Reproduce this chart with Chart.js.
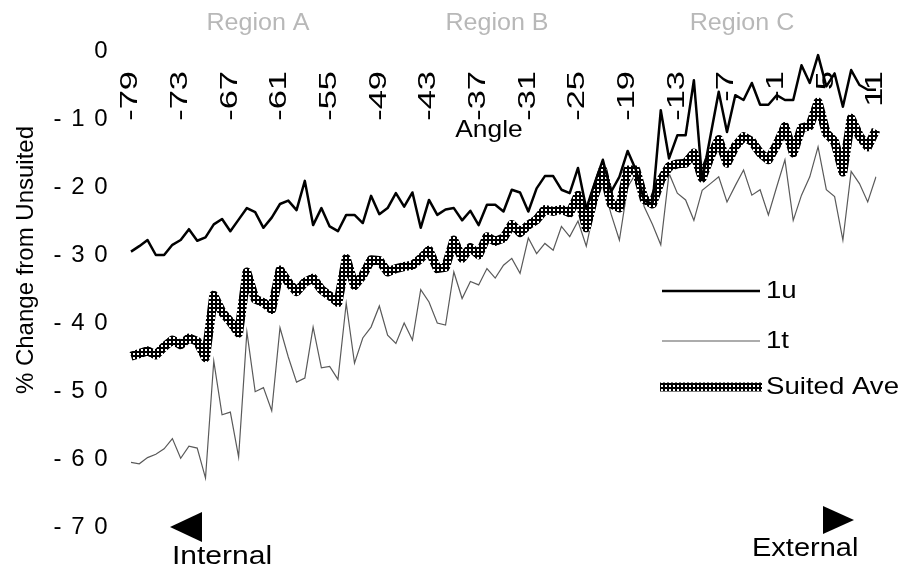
<!DOCTYPE html>
<html><head><meta charset="utf-8">
<script src="https://cdn.jsdelivr.net/npm/chart.js@4"></script>
<style>html,body{margin:0;padding:0;background:#fff;}canvas{display:block;}</style>
</head><body>
<canvas id="c" width="902" height="567"></canvas>
<script>
// ---- data ----
const angles = [-79,-78,-77,-76,-75,-74,-73,-72,-71,-70,-69,-68,-67,-66,-65,-64,-63,-62,-61,-60,
  -59,-58,-57,-56,-55,-54,-53,-52,-51,-50,-49,-48,-47,-46,-45,-44,-43,-42,-41,-40,
  -39,-38,-37,-36,-35,-34,-33,-32,-31,-30,-29,-28,-27,-26,-25,-24,-23,-22,-21,-20,
  -19,-18,-17,-16,-15,-14,-13,-12,-11,-10,-9,-8,-7,-6,-5,-4,-3,-2,-1,0,
  1,2,3,4,5,6,7,8,9,10,11];
const xTickLabels = ['-79','-73','-67','-61','-55','-49','-43','-37','-31','-25','-19','-13','-7','-1','5','11'];
const series1u = [-29.5,-28.7,-27.8,-30,-30,-28.5,-27.8,-26.2,-27.9,-27.4,
  -25.5,-24.7,-26.5,-24.8,-23.1,-23.7,-26,-24.5,-22.5,-22,
  -23.4,-19.1,-25.6,-23.1,-25.8,-26.5,-24.1,-24.1,-25.3,-21.3,
  -24,-23.1,-20.9,-22.9,-20.8,-26,-21.9,-24.1,-23.3,-23.1,
  -24.9,-23.5,-25.6,-22.6,-22.6,-23.6,-20.4,-20.8,-23.6,-20.2,
  -18.4,-18.4,-20.4,-20.9,-17.2,-23.2,-19.5,-16,-20.7,-18.5,
  -14.7,-17.5,-22,-22.5,-8.7,-15.8,-12.4,-12.4,-4.3,-19,
  -12.5,-6,-11.9,-6.5,-7.2,-4.7,-7.9,-7.9,-6.5,-7.2,
  -7.2,-2.1,-4.7,-0.6,-5.2,-3.3,-8.2,-2.8,-5,-5.7,-5.7];
const series1t = [-60.5,-60.7,-59.8,-59.3,-58.5,-57,-59.9,-58.1,-58.4,-62.8,
  -45.6,-53.5,-53.1,-59.7,-41.3,-50.1,-49.5,-52.9,-40.7,-45,
  -48.7,-48.1,-40.6,-46.6,-46.4,-48.3,-37.1,-45.9,-42.2,-40.6,
  -37.5,-41.8,-43,-40,-42.5,-35.1,-36.9,-40,-40.3,-32.5,
  -36.4,-33.9,-34.4,-32,-33.4,-31.5,-30.5,-32.7,-27.5,-29.8,
  -28.3,-29.3,-25.8,-27.3,-25,-28.7,-23,-19.5,-24,-27.8,
  -20,-18,-22.9,-25.5,-28.5,-18,-20.9,-21.9,-24.9,-20.5,
  -19.5,-18.5,-22.2,-19.8,-17.5,-21.2,-20.4,-24.1,-20,-16,
  -24.9,-21.2,-18.5,-14.1,-20.4,-21.4,-27.8,-17.7,-19.5,-22.2,-18.5];
const suitedAve = [-44.9,-44.5,-44.1,-44.7,-43.5,-42.5,-43.2,-42.2,-42.7,-45.1,
  -35.9,-38.4,-39.8,-41.5,-32.5,-36.5,-37,-38,-32.2,-34,
  -35.4,-34,-33.4,-35.1,-36,-37,-30.5,-34.5,-33,-30.7,
  -30.8,-32.5,-32,-31.7,-31.5,-30.5,-29.3,-32,-31.8,-27.8,
  -30.5,-28.9,-30,-27.3,-28,-27.5,-25.5,-26.7,-25.6,-24.8,
  -23.3,-23.6,-23.3,-23.8,-21.2,-26,-21.2,-17.5,-22.5,-23.1,
  -17.5,-17.5,-21.8,-22.5,-19,-17,-16.6,-16.5,-15,-18.7,
  -15.5,-13,-16.5,-14,-12.6,-13.3,-15,-16,-13.8,-11.1,
  -15,-11.3,-11,-7.5,-12.1,-13.3,-17.8,-9.9,-12.5,-14.1,-11.6];
const seriesNames = ['1u','1t','Suited Ave'];
const regionLabels = ['Region A','Region B','Region C'];
const directionLabels = ['Internal','External'];
const xTitle = 'Angle';
const yTitle = '% Change from Unsuited';

// ---- styling ----
const FONT = '"Liberation Sans", Arial, Helvetica, sans-serif';

function bandPattern() {
  const c = document.createElement('canvas');
  c.width = 4; c.height = 4;
  const g = c.getContext('2d');
  g.fillStyle = '#000'; g.fillRect(0, 0, 4, 4);
  g.fillStyle = '#fff'; g.fillRect(1, 1, 2, 2);
  return g.createPattern(c, 'repeat');
}

function drawText(ctx, text, x, y, o) {
  ctx.save();
  ctx.letterSpacing = '0px';
  ctx.translate(x, y);
  if (o.rotate) ctx.rotate(o.rotate);
  ctx.scale(o.sx || 1, 1);
  ctx.font = (o.size || 24) + 'px ' + FONT;
  ctx.fillStyle = o.color || '#000';
  ctx.textAlign = o.align || 'left';
  ctx.textBaseline = o.baseline || 'alphabetic';
  ctx.fillText(text, 0, 0);
  ctx.restore();
}

const decor = {
  id: 'decor',
  beforeDraw(chart) {
    chart.ctx.letterSpacing = '1.5px';
  },
  beforeDatasetsDraw(chart) {
    const ctx = chart.ctx, xs = chart.scales.x;
    angles.forEach((a, i) => {
      const s = String(a);
      if (xTickLabels.indexOf(s) === -1) return;
      drawText(ctx, s, xs.getPixelForValue(i), 71,
        {rotate: -Math.PI / 2, sx: 1.5, size: 23, align: 'right', baseline: 'middle'});
    });
    drawText(ctx, xTitle, 489, 137, {size: 24, sx: 1.1, align: 'center'});
  },
  afterDatasetsDraw(chart) {
    const ctx = chart.ctx;
    // region labels
    const rx = [258, 497, 742];
    regionLabels.forEach((t, i) => drawText(ctx, t, rx[i], 30,
      {size: 23, sx: 1.09, align: 'center', color: '#b8b8b8'}));
    // y title
    drawText(ctx, yTitle, 33, 260, {rotate: -Math.PI / 2, size: 24, align: 'center'});
    // direction arrows
    ctx.save();
    ctx.fillStyle = '#000';
    ctx.beginPath(); ctx.moveTo(170, 527); ctx.lineTo(202, 512); ctx.lineTo(202, 542); ctx.closePath(); ctx.fill();
    ctx.beginPath(); ctx.moveTo(854, 520); ctx.lineTo(823, 506); ctx.lineTo(823, 534); ctx.closePath(); ctx.fill();
    ctx.restore();
    drawText(ctx, directionLabels[0], 172, 564, {size: 25, sx: 1.2});
    drawText(ctx, directionLabels[1], 752, 556, {size: 25, sx: 1.16});
    // legend
    const ly = [291, 341, 387];
    chart.data.datasets.forEach((ds, i) => {
      ctx.save();
      ctx.strokeStyle = ds.borderColor;
      ctx.lineWidth = ds.borderWidth;
      ctx.beginPath();
      ctx.moveTo(i === 2 ? 660 : 662, ly[i]);
      ctx.lineTo(i === 2 ? 762 : 760, ly[i]);
      ctx.stroke();
      ctx.restore();
      drawText(ctx, ds.label, 766, ly[i], {size: 24, sx: 1.15, baseline: 'middle'});
    });
  }
};

const ctx = document.getElementById('c').getContext('2d');
new Chart(ctx, {
  type: 'line',
  data: {
    labels: angles.map(String),
    datasets: [
      {label: seriesNames[0], data: series1u, borderColor: '#000', borderWidth: 2.5,
       pointRadius: 0, tension: 0, order: 1, borderJoinStyle: 'round'},
      {label: seriesNames[1], data: series1t, borderColor: '#5a5a5a', borderWidth: 1.2,
       pointRadius: 0, tension: 0, order: 3},
      {label: seriesNames[2], data: suitedAve, borderColor: bandPattern(), borderWidth: 9,
       pointRadius: 0, tension: 0, order: 2, borderJoinStyle: 'round', borderCapStyle: 'butt'}
    ]
  },
  options: {
    responsive: false,
    animation: false,
    devicePixelRatio: 1,
    layout: {padding: {left: 0, right: 26, top: 51, bottom: 40}},
    plugins: {legend: {display: false}, tooltip: {enabled: false}},
    scales: {
      x: {display: false},
      y: {
        min: -70, max: 0, position: 'left',
        grid: {display: false, drawTicks: false},
        border: {display: false},
        ticks: {
          stepSize: 10, color: '#000', padding: 22,
          font: {family: FONT, size: 24},
          callback: v => v === 0 ? '0' : '- ' + String(-v).split('').join(' ')
        },
        afterFit: s => { s.width = 131; }
      }
    }
  },
  plugins: [decor]
});
</script>
</body></html>
